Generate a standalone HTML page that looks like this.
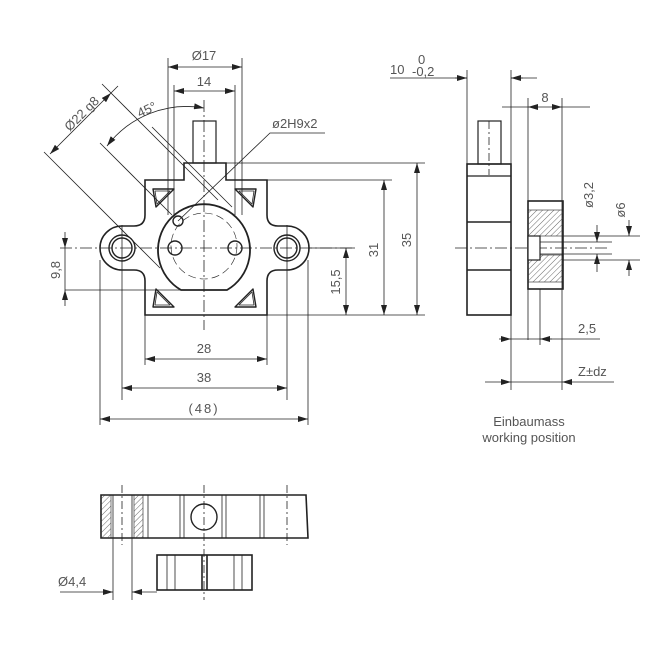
<!DOCTYPE html>
<html><head><meta charset="utf-8"><style>
body{margin:0;background:#fff}
svg{display:block}
text{font-family:"Liberation Sans",sans-serif;font-size:13px;fill:#555}
</style></head><body>
<svg width="650" height="650" viewBox="0 0 650 650" xmlns="http://www.w3.org/2000/svg">
<defs>
<marker id="a" viewBox="0 0 10 6" refX="10" refY="3" markerWidth="10" markerHeight="6" orient="auto-start-reverse" markerUnits="userSpaceOnUse"><path d="M0,0L10,3L0,6z" fill="#222"/></marker>
<pattern id="h" width="4" height="4" patternUnits="userSpaceOnUse" patternTransform="rotate(45)"><line x1="0" y1="0" x2="0" y2="4" stroke="#444" stroke-width="0.8"/></pattern>
</defs>
<g stroke="#222" fill="none" stroke-width="0.8">
<line x1="60" y1="248" x2="355" y2="248" stroke-dasharray="12 3 2 3"/>
<line x1="204" y1="100" x2="204" y2="330" stroke-dasharray="12 3 2 3"/>
<line x1="122" y1="225" x2="122" y2="400"/>
<line x1="287" y1="225" x2="287" y2="400"/>
<path d="M184,163H226V180H267V215Q267,226 278,226H287A22,22 0 0 1 287,270H278Q267,270 267,281V315H145V281Q145,270 134,270H122A22,22 0 0 1 122,226H134Q145,226 145,215V180H184Z" stroke-width="1.6"/>
<circle cx="122" cy="248" r="13" stroke-width="1.4"/><circle cx="122" cy="248" r="10" stroke-width="1.4"/>
<circle cx="287" cy="248" r="13" stroke-width="1.4"/><circle cx="287" cy="248" r="10" stroke-width="1.4"/>
<path d="M227,290A46,46 0 1 0 181,290Z" stroke-width="1.8"/>
<circle cx="204" cy="246" r="33" stroke-dasharray="8 4" stroke-width="0.6"/>
<circle cx="175" cy="248" r="7" stroke-width="1.4"/><circle cx="235" cy="248" r="7" stroke-width="1.4"/>
<circle cx="178" cy="221" r="5" stroke-width="1.4"/>
<rect x="193" y="121" width="23" height="42" stroke-width="1.2"/>
<g stroke-width="1.4" stroke-linejoin="round">
<path d="M153,189L174,189L156,207Z"/><path d="M155,191L170,191L157,204Z" stroke-width="0.8"/>
<path d="M256,189L235,189L253,207Z"/><path d="M254,191L239,191L252,204Z" stroke-width="0.8"/>
<path d="M153,307L174,307L156,289Z"/><path d="M155,305L170,305L157,292Z" stroke-width="0.8"/>
<path d="M256,307L235,307L253,289Z"/><path d="M254,305L239,305L252,292Z" stroke-width="0.8"/>
</g>
<line x1="168" y1="58" x2="168" y2="215"/><line x1="242" y1="58" x2="242" y2="215"/>
<line x1="174" y1="85" x2="174" y2="215"/><line x1="235" y1="85" x2="235" y2="215"/>
<line x1="226" y1="163" x2="425" y2="163"/><line x1="267" y1="180" x2="392" y2="180"/>
<line x1="267" y1="315" x2="425" y2="315"/><line x1="308" y1="248" x2="355" y2="248"/>
<line x1="65" y1="290" x2="185" y2="290"/>
<line x1="145" y1="315" x2="145" y2="365"/><line x1="267" y1="315" x2="267" y2="365"/>
<line x1="100" y1="260" x2="100" y2="425"/><line x1="308" y1="260" x2="308" y2="425"/>
<line x1="168" y1="67" x2="242" y2="67" marker-start="url(#a)" marker-end="url(#a)"/>
<line x1="174" y1="91" x2="235" y2="91" marker-start="url(#a)" marker-end="url(#a)"/>
<line x1="417" y1="163" x2="417" y2="315" marker-start="url(#a)" marker-end="url(#a)"/>
<line x1="384" y1="180" x2="384" y2="315" marker-start="url(#a)" marker-end="url(#a)"/>
<line x1="346" y1="248" x2="346" y2="315" marker-start="url(#a)" marker-end="url(#a)"/>
<line x1="65" y1="232" x2="65" y2="248" marker-end="url(#a)"/><line x1="65" y1="306" x2="65" y2="290" marker-end="url(#a)"/>
<line x1="65" y1="248" x2="65" y2="290"/>
<line x1="145" y1="359" x2="267" y2="359" marker-start="url(#a)" marker-end="url(#a)"/>
<line x1="122" y1="388" x2="287" y2="388" marker-start="url(#a)" marker-end="url(#a)"/>
<line x1="100" y1="419" x2="308" y2="419" marker-start="url(#a)" marker-end="url(#a)"/>
<line x1="44" y1="152" x2="160" y2="268"/><line x1="102" y1="84" x2="218" y2="200"/>
<line x1="100" y1="143" x2="172" y2="215"/><line x1="152" y1="127" x2="232" y2="207"/>
<line x1="50" y1="154" x2="111" y2="93" marker-start="url(#a)" marker-end="url(#a)"/>
<line x1="111" y1="93" x2="118" y2="86"/>
<path d="M107,146A100,100 0 0 1 204,108" marker-start="url(#a)" marker-end="url(#a)"/>
<polyline points="178,221 270,133 325,133"/>
<line x1="467" y1="70" x2="467" y2="164"/><line x1="511" y1="70" x2="511" y2="390"/>
<line x1="390" y1="78" x2="467" y2="78"/><line x1="511" y1="78" x2="537" y2="78"/>
<line x1="455" y1="78" x2="467" y2="78" marker-end="url(#a)"/><line x1="523" y1="78" x2="511" y2="78" marker-end="url(#a)"/>
<line x1="528" y1="98" x2="528" y2="340"/><line x1="562" y1="98" x2="562" y2="390"/>
<line x1="502" y1="107" x2="528" y2="107"/><line x1="528" y1="107" x2="562" y2="107" marker-start="url(#a)" marker-end="url(#a)"/><line x1="562" y1="107" x2="590" y2="107"/>
<rect x="478" y="121" width="23" height="43" stroke-width="1.2"/>
<line x1="489" y1="121" x2="489" y2="175" stroke-dasharray="8 3 2 3"/>
<rect x="467" y="164" width="44" height="151" stroke-width="1.6"/>
<line x1="467" y1="176" x2="511" y2="176" stroke-width="1.2"/>
<line x1="467" y1="222" x2="511" y2="222" stroke-width="1.4"/>
<line x1="467" y1="270" x2="511" y2="270" stroke-width="1.4"/>
<line x1="455" y1="248" x2="608" y2="248" stroke-dasharray="12 3 2 3"/>
<rect x="528" y="201" width="35" height="88" stroke-width="1.6"/>
<rect x="528" y="210" width="35" height="26" fill="url(#h)" stroke-width="0.6"/>
<rect x="528" y="255" width="35" height="27" fill="url(#h)" stroke-width="0.6"/>
<rect x="528" y="236" width="12" height="24" fill="#fff" stroke-width="1.2"/>
<line x1="540" y1="242" x2="612" y2="242"/><line x1="540" y1="254" x2="612" y2="254"/>
<line x1="563" y1="236" x2="640" y2="236"/><line x1="563" y1="260" x2="640" y2="260"/>
<line x1="597" y1="225" x2="597" y2="242" marker-end="url(#a)"/><line x1="597" y1="272" x2="597" y2="254" marker-end="url(#a)"/>
<line x1="629" y1="220" x2="629" y2="236" marker-end="url(#a)"/><line x1="629" y1="276" x2="629" y2="260" marker-end="url(#a)"/>
<line x1="540" y1="289" x2="540" y2="345"/>
<line x1="499" y1="339" x2="511" y2="339" marker-end="url(#a)"/><line x1="552" y1="339" x2="540" y2="339" marker-end="url(#a)"/>
<line x1="511" y1="339" x2="600" y2="339"/>
<line x1="485" y1="382" x2="511" y2="382" marker-end="url(#a)"/><line x1="614" y1="382" x2="562" y2="382" marker-end="url(#a)"/>
<line x1="511" y1="382" x2="562" y2="382"/>
<line x1="122" y1="485" x2="122" y2="545" stroke-dasharray="8 3 2 3"/>
<line x1="204" y1="485" x2="204" y2="600" stroke-dasharray="8 3 2 3"/>
<line x1="287" y1="485" x2="287" y2="545" stroke-dasharray="8 3 2 3"/>
<path d="M101,495H306L308,538H101Z" stroke-width="1.6"/>
<rect x="101" y="495" width="10" height="43" fill="url(#h)" stroke-width="0.6"/>
<rect x="134" y="495" width="9" height="43" fill="url(#h)" stroke-width="0.6"/>
<line x1="113" y1="495" x2="113" y2="600"/><line x1="132" y1="495" x2="132" y2="600"/>
<line x1="148" y1="495" x2="148" y2="538"/><line x1="180" y1="495" x2="180" y2="538"/><line x1="184" y1="495" x2="184" y2="538"/>
<line x1="222" y1="495" x2="222" y2="538"/><line x1="226" y1="495" x2="226" y2="538"/>
<line x1="260" y1="495" x2="260" y2="538"/><line x1="264" y1="495" x2="264" y2="538"/>
<circle cx="204" cy="517" r="13" stroke-width="1.4"/>
<rect x="157" y="555" width="95" height="35" stroke-width="1.6"/>
<line x1="167" y1="555" x2="167" y2="590"/><line x1="175" y1="555" x2="175" y2="590"/>
<line x1="202" y1="555" x2="202" y2="590" stroke-width="1.6"/><line x1="207" y1="555" x2="207" y2="590" stroke-width="1.6"/>
<line x1="234" y1="555" x2="234" y2="590"/><line x1="242" y1="555" x2="242" y2="590"/>
<line x1="60" y1="592" x2="113" y2="592" marker-end="url(#a)"/><line x1="157" y1="592" x2="132" y2="592" marker-end="url(#a)"/>
</g>
<text x="204" y="60" text-anchor="middle">Ø17</text>
<text x="204" y="86" text-anchor="middle">14</text>
<text x="204" y="353" text-anchor="middle">28</text>
<text x="204" y="382" text-anchor="middle">38</text>
<text x="204" y="413" text-anchor="middle" letter-spacing="2">(48)</text>
<text x="272" y="128">ø2H9x2</text>
<text x="147" y="114" text-anchor="middle" transform="rotate(-25 147 110)">45°</text>
<text x="82" y="118" text-anchor="middle" transform="rotate(-45 82 114)">Ø22 g8</text>
<text transform="translate(411 240) rotate(-90)" text-anchor="middle">35</text>
<text transform="translate(378 250) rotate(-90)" text-anchor="middle">31</text>
<text transform="translate(340 282) rotate(-90)" text-anchor="middle">15,5</text>
<text transform="translate(60 270) rotate(-90)" text-anchor="middle">9,8</text>
<text x="390" y="74">10</text>
<text x="418" y="64" font-size="11">0</text>
<text x="412" y="76" font-size="11">-0,2</text>
<text x="545" y="102" text-anchor="middle">8</text>
<text transform="translate(593 195) rotate(-90)" text-anchor="middle">ø3,2</text>
<text transform="translate(625 210) rotate(-90)" text-anchor="middle">ø6</text>
<text x="578" y="333">2,5</text>
<text x="578" y="376">Z±dz</text>
<text x="529" y="426" text-anchor="middle">Einbaumass</text>
<text x="529" y="442" text-anchor="middle">working position</text>
<text x="58" y="586">Ø4,4</text>
</svg>
</body></html>
